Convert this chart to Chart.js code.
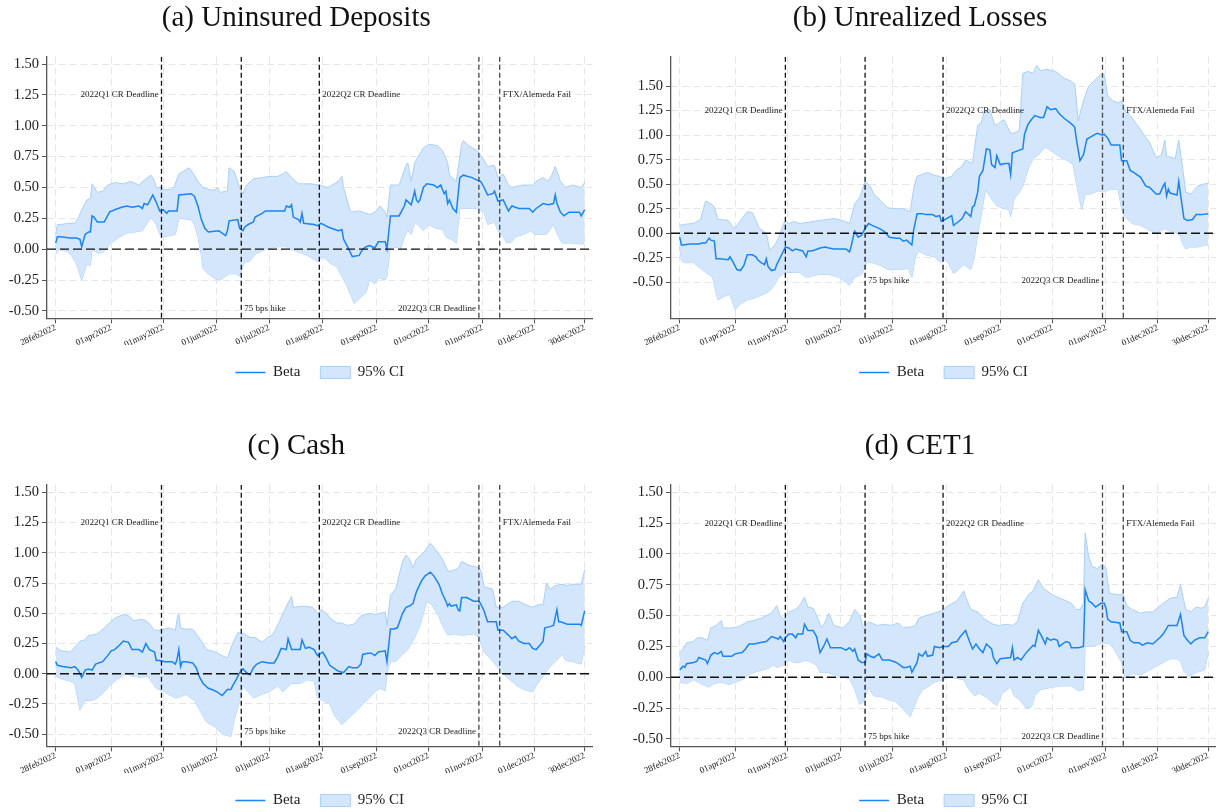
<!DOCTYPE html>
<html>
<head>
<meta charset="utf-8">
<script src="https://cdn.jsdelivr.net/npm/chart.js@4.4.1/dist/chart.umd.min.js"></script>
<style>
html, body { margin: 0; padding: 0; background: #fff; overflow: hidden; width: 1216px; height: 812px; }
canvas { position: absolute; }
</style>
</head>
<body>
<canvas id="chartA" width="608" height="390" style="left:0px;top:0px"></canvas>
<canvas id="chartB" width="592" height="390" style="left:624px;top:0px"></canvas>
<canvas id="chartC" width="608" height="390" style="left:0px;top:428px"></canvas>
<canvas id="chartD" width="592" height="390" style="left:624px;top:428px"></canvas>
<script>
// x values are days since 28feb2022
const tickDays = [0, 32, 62, 93, 123, 154, 185, 215, 246, 276, 305];
const tickLabels = ['28feb2022', '01apr2022', '01may2022', '01jun2022', '01jul2022', '01aug2022',
    '01sep2022', '01oct2022', '01nov2022', '01dec2022', '30dec2022'];
const yTicks = [-0.5, -0.25, 0, 0.25, 0.5, 0.75, 1, 1.25, 1.5];

const eventDays = [61, 107, 152, 244, 256];
const eventLabels = ['2022Q1 CR Deadline', '75 bps hike', '2022Q2 CR Deadline', '2022Q3 CR Deadline', 'FTX/Alemeda Fail'];

// (a) Uninsured Deposits
const betaA = [[0,0.05],[1,0.10],[3,0.10],[8,0.09],[12,0.09],[14,0.08],[15,0.02],[17,0.12],[19,0.14],[20,0.14],[21,0.27],[22,0.26],[24,0.22],[28,0.22],[31,0.30],[34,0.32],[38,0.34],[41,0.35],[44,0.34],[48,0.35],[50,0.33],[51,0.37],[53,0.36],[56,0.44],[58,0.38],[60,0.31],[62,0.32],[64,0.29],[65,0.31],[70,0.31],[71,0.44],[78,0.45],[80,0.43],[82,0.35],[84,0.24],[86,0.17],[88,0.14],[94,0.15],[96,0.13],[98,0.11],[99,0.15],[100,0.23],[105,0.24],[106,0.17],[108,0.15],[109,0.18],[111,0.20],[114,0.22],[115,0.26],[119,0.29],[121,0.31],[132,0.31],[133,0.35],[135,0.34],[136,0.36],[137,0.26],[140,0.24],[141,0.22],[142,0.29],[143,0.21],[149,0.20],[151,0.19],[153,0.21],[157,0.18],[161,0.16],[163,0.15],[165,0.16],[166,0.08],[169,0.00],[171,-0.06],[175,-0.05],[177,0.00],[179,0.02],[181,0.03],[184,0.01],[186,0.06],[190,0.06],[191,0.00],[193,0.27],[198,0.27],[201,0.35],[202,0.40],[205,0.36],[207,0.47],[208,0.40],[209,0.38],[210,0.40],[212,0.50],[214,0.53],[218,0.52],[220,0.50],[222,0.52],[224,0.45],[225,0.47],[226,0.37],[227,0.40],[229,0.33],[231,0.30],[233,0.58],[235,0.60],[240,0.58],[243,0.56],[245,0.55],[247,0.50],[249,0.44],[252,0.45],[253,0.47],[255,0.39],[258,0.40],[260,0.34],[261,0.31],[263,0.35],[265,0.34],[267,0.33],[273,0.33],[275,0.30],[277,0.33],[281,0.37],[284,0.36],[287,0.37],[288,0.44],[289,0.37],[291,0.30],[293,0.27],[296,0.30],[302,0.30],[303,0.27],[305,0.32]];
const hiA = [[0,0.12],[1,0.20],[3,0.20],[7,0.21],[11,0.21],[13,0.25],[15,0.32],[18,0.40],[20,0.41],[21,0.53],[24,0.46],[27,0.47],[30,0.52],[34,0.54],[39,0.53],[43,0.55],[48,0.52],[51,0.56],[55,0.60],[57,0.55],[58,0.50],[61,0.50],[63,0.48],[68,0.49],[71,0.61],[77,0.66],[80,0.60],[82,0.55],[85,0.50],[89,0.48],[92,0.48],[93,0.50],[95,0.46],[99,0.47],[100,0.66],[103,0.63],[106,0.50],[108,0.45],[110,0.52],[114,0.57],[119,0.58],[123,0.59],[128,0.59],[131,0.61],[133,0.63],[136,0.58],[140,0.53],[143,0.53],[147,0.53],[152,0.52],[157,0.50],[163,0.55],[165,0.59],[166,0.50],[168,0.40],[170,0.30],[175,0.31],[181,0.28],[184,0.30],[187,0.35],[190,0.30],[191,0.26],[193,0.52],[198,0.52],[202,0.68],[203,0.70],[205,0.55],[207,0.70],[212,0.82],[215,0.85],[220,0.84],[223,0.80],[226,0.70],[227,0.60],[231,0.55],[234,0.85],[235,0.88],[238,0.84],[243,0.80],[245,0.76],[247,0.72],[249,0.67],[253,0.68],[255,0.58],[258,0.61],[261,0.52],[263,0.50],[269,0.52],[275,0.52],[278,0.56],[281,0.58],[284,0.55],[286,0.60],[288,0.67],[291,0.55],[294,0.50],[298,0.52],[303,0.50],[305,0.54]];
const loA = [[0,-0.04],[2,0.00],[7,-0.02],[9,-0.05],[12,-0.12],[15,-0.25],[18,-0.12],[20,-0.13],[21,0.00],[24,-0.03],[27,-0.03],[29,0.00],[32,0.05],[37,0.10],[41,0.13],[46,0.14],[50,0.15],[55,0.26],[58,0.20],[60,0.12],[62,0.10],[66,0.11],[69,0.12],[71,0.25],[78,0.24],[80,0.20],[82,0.10],[84,-0.05],[85,-0.16],[88,-0.20],[92,-0.24],[95,-0.25],[98,-0.22],[100,-0.20],[104,-0.20],[106,-0.22],[109,-0.10],[112,-0.10],[115,-0.04],[121,0.00],[128,0.02],[133,0.02],[136,0.00],[141,-0.03],[145,-0.05],[151,-0.10],[154,-0.06],[159,-0.12],[162,-0.14],[165,-0.22],[168,-0.30],[171,-0.40],[172,-0.44],[175,-0.40],[179,-0.35],[181,-0.25],[184,-0.28],[186,-0.23],[190,-0.25],[191,-0.22],[193,0.02],[199,0.01],[201,0.10],[203,0.15],[205,0.12],[207,0.22],[210,0.18],[212,0.15],[215,0.20],[219,0.17],[223,0.16],[225,0.10],[228,0.08],[231,0.05],[233,0.33],[243,0.33],[247,0.30],[249,0.20],[253,0.22],[255,0.15],[258,0.10],[260,0.05],[263,0.06],[265,0.10],[270,0.12],[274,0.15],[276,0.12],[283,0.12],[287,0.20],[290,0.10],[292,0.05],[298,0.05],[304,0.04],[305,0.08]];

// (b) Unrealized Losses
const betaB = [[0,-0.04],[1,-0.12],[2,-0.12],[6,-0.11],[9,-0.11],[11,-0.11],[13,-0.10],[15,-0.10],[17,-0.05],[18,-0.07],[20,-0.08],[21,-0.26],[23,-0.26],[28,-0.27],[29,-0.24],[31,-0.30],[33,-0.37],[35,-0.38],[37,-0.33],[39,-0.22],[42,-0.22],[44,-0.24],[45,-0.27],[47,-0.30],[49,-0.32],[50,-0.26],[51,-0.34],[53,-0.38],[55,-0.37],[56,-0.32],[58,-0.25],[61,-0.14],[63,-0.15],[65,-0.18],[67,-0.16],[71,-0.18],[73,-0.24],[74,-0.18],[76,-0.18],[78,-0.17],[81,-0.15],[84,-0.14],[86,-0.15],[89,-0.16],[96,-0.16],[98,-0.19],[99,-0.13],[100,-0.05],[101,0.02],[103,-0.04],[105,-0.02],[107,0.05],[109,0.10],[111,0.08],[115,0.05],[118,0.02],[121,-0.04],[125,-0.05],[127,-0.05],[129,-0.08],[131,-0.07],[134,-0.12],[135,0.03],[137,0.20],[140,0.20],[142,0.19],[146,0.19],[148,0.17],[150,0.18],[151,0.12],[152,0.13],[154,0.15],[157,0.18],[158,0.08],[161,0.12],[163,0.15],[165,0.22],[168,0.17],[169,0.27],[170,0.28],[172,0.42],[173,0.58],[175,0.64],[176,0.75],[177,0.86],[179,0.85],[180,0.70],[182,0.67],[183,0.79],[185,0.70],[188,0.71],[190,0.71],[191,0.60],[192,0.82],[195,0.84],[198,0.86],[199,1.01],[201,1.11],[203,1.16],[205,1.20],[208,1.18],[210,1.18],[212,1.29],[214,1.26],[217,1.27],[219,1.22],[222,1.17],[225,1.13],[227,1.10],[228,1.08],[229,0.95],[231,0.74],[233,0.80],[235,0.96],[237,0.98],[239,1.00],[241,1.02],[244,1.00],[245,1.01],[247,0.97],[249,0.90],[254,0.90],[255,0.74],[258,0.74],[260,0.64],[262,0.62],[266,0.57],[269,0.48],[271,0.47],[275,0.40],[277,0.40],[279,0.48],[280,0.51],[281,0.38],[282,0.45],[283,0.41],[287,0.39],[288,0.53],[289,0.40],[291,0.15],[293,0.13],[296,0.14],[298,0.19],[301,0.19],[305,0.20]];
const hiB = [[0,0.08],[2,0.09],[8,0.10],[12,0.14],[15,0.33],[18,0.30],[20,0.27],[22,0.14],[24,0.14],[28,0.13],[30,0.08],[32,0.05],[34,0.10],[36,0.15],[39,0.22],[42,0.21],[44,0.13],[46,0.05],[50,0.00],[52,-0.17],[55,-0.12],[57,-0.05],[60,0.10],[61,0.13],[63,0.10],[66,0.12],[69,0.10],[74,0.11],[77,0.12],[80,0.13],[85,0.14],[89,0.15],[94,0.13],[98,0.10],[101,0.30],[104,0.37],[107,0.53],[110,0.48],[112,0.40],[116,0.33],[120,0.26],[125,0.25],[129,0.25],[133,0.22],[135,0.45],[137,0.58],[140,0.60],[143,0.62],[147,0.59],[150,0.58],[153,0.56],[157,0.58],[160,0.65],[163,0.68],[165,0.75],[168,0.72],[169,0.72],[172,1.10],[174,1.13],[176,1.25],[179,1.26],[180,1.20],[182,1.10],[184,1.12],[187,1.16],[191,1.02],[193,1.02],[196,1.05],[198,1.63],[201,1.65],[204,1.63],[206,1.71],[208,1.66],[212,1.67],[217,1.65],[222,1.58],[226,1.55],[228,1.52],[230,1.15],[233,1.35],[236,1.50],[239,1.55],[243,1.62],[245,1.62],[247,1.40],[250,1.35],[253,1.33],[255,1.35],[257,1.25],[260,1.20],[265,1.08],[268,1.00],[271,0.93],[275,0.77],[278,0.80],[280,0.95],[281,0.78],[283,0.78],[286,0.76],[288,0.95],[290,0.70],[292,0.42],[295,0.40],[299,0.48],[302,0.50],[305,0.51]];
const loB = [[0,-0.14],[1,-0.28],[3,-0.30],[8,-0.30],[12,-0.36],[15,-0.40],[19,-0.45],[22,-0.68],[25,-0.65],[29,-0.62],[32,-0.78],[35,-0.72],[39,-0.68],[43,-0.66],[46,-0.64],[51,-0.60],[54,-0.55],[57,-0.45],[61,-0.40],[65,-0.40],[69,-0.40],[73,-0.45],[76,-0.44],[80,-0.42],[86,-0.42],[92,-0.45],[98,-0.53],[101,-0.45],[105,-0.42],[108,-0.30],[111,-0.30],[116,-0.33],[120,-0.37],[127,-0.37],[132,-0.36],[134,-0.45],[136,-0.24],[138,-0.18],[142,-0.22],[147,-0.24],[151,-0.30],[153,-0.27],[155,-0.30],[158,-0.41],[161,-0.37],[164,-0.32],[168,-0.37],[170,-0.25],[172,0.00],[174,0.18],[176,0.40],[177,0.43],[180,0.35],[183,0.28],[186,0.26],[190,0.24],[191,0.17],[193,0.35],[196,0.42],[198,0.48],[201,0.65],[204,0.76],[207,0.80],[211,0.88],[215,0.83],[220,0.77],[224,0.74],[227,0.70],[229,0.50],[232,0.24],[234,0.40],[237,0.40],[241,0.43],[246,0.43],[249,0.45],[253,0.45],[255,0.25],[257,0.17],[261,0.10],[266,0.08],[270,0.04],[275,0.00],[278,0.03],[280,0.05],[282,0.03],[286,0.01],[289,-0.03],[290,-0.10],[292,-0.16],[295,-0.14],[299,-0.14],[303,-0.12],[305,-0.12]];

// (c) Cash
const betaC = [[0,0.10],[1,0.07],[4,0.06],[9,0.05],[11,0.06],[13,0.03],[15,-0.03],[17,0.03],[19,0.04],[21,0.03],[23,0.08],[27,0.10],[30,0.15],[32,0.19],[34,0.20],[37,0.24],[39,0.27],[42,0.26],[44,0.20],[48,0.20],[50,0.18],[52,0.25],[54,0.20],[57,0.18],[58,0.11],[60,0.11],[63,0.10],[67,0.10],[69,0.08],[70,0.12],[71,0.20],[72,0.06],[73,0.10],[75,0.10],[79,0.09],[81,0.05],[83,-0.03],[85,-0.08],[88,-0.12],[90,-0.13],[93,-0.15],[96,-0.18],[99,-0.13],[101,-0.13],[102,-0.10],[104,-0.05],[106,0.01],[108,0.04],[110,0.01],[112,-0.01],[114,0.05],[116,0.08],[119,0.10],[123,0.09],[126,0.09],[128,0.14],[130,0.21],[133,0.20],[134,0.29],[136,0.20],[137,0.20],[141,0.20],[142,0.28],[144,0.21],[146,0.22],[149,0.20],[151,0.15],[154,0.18],[156,0.13],[158,0.07],[161,0.04],[163,0.02],[166,0.01],[169,0.06],[171,0.05],[174,0.05],[176,0.08],[177,0.16],[180,0.17],[182,0.17],[184,0.15],[186,0.18],[190,0.19],[191,0.10],[193,0.37],[195,0.37],[197,0.38],[200,0.50],[202,0.55],[204,0.56],[206,0.58],[208,0.68],[211,0.77],[213,0.81],[216,0.84],[218,0.81],[221,0.74],[223,0.66],[225,0.60],[226,0.56],[227,0.58],[228,0.56],[231,0.57],[232,0.53],[233,0.52],[234,0.63],[237,0.63],[241,0.60],[244,0.60],[245,0.58],[247,0.52],[249,0.43],[254,0.43],[255,0.36],[258,0.36],[261,0.32],[263,0.29],[265,0.31],[267,0.27],[270,0.25],[273,0.25],[275,0.21],[277,0.20],[280,0.25],[281,0.27],[282,0.38],[285,0.39],[287,0.40],[289,0.53],[290,0.43],[291,0.43],[295,0.41],[298,0.41],[302,0.41],[303,0.40],[305,0.52]];
const hiC = [[0,0.22],[3,0.19],[8,0.18],[10,0.20],[14,0.27],[17,0.28],[19,0.32],[21,0.32],[24,0.33],[28,0.38],[31,0.42],[34,0.46],[39,0.49],[42,0.48],[45,0.44],[50,0.45],[53,0.43],[57,0.36],[61,0.36],[65,0.38],[69,0.36],[70,0.45],[71,0.50],[72,0.38],[74,0.37],[79,0.37],[81,0.33],[84,0.27],[87,0.20],[92,0.18],[96,0.15],[99,0.13],[102,0.25],[105,0.34],[109,0.33],[112,0.30],[115,0.30],[119,0.26],[122,0.30],[125,0.32],[129,0.43],[132,0.53],[136,0.64],[137,0.55],[143,0.56],[148,0.55],[151,0.50],[153,0.53],[156,0.50],[159,0.45],[162,0.42],[165,0.42],[168,0.40],[172,0.41],[176,0.48],[181,0.50],[184,0.49],[190,0.51],[191,0.40],[193,0.65],[196,0.70],[200,0.93],[202,0.98],[204,0.95],[206,0.88],[208,0.95],[212,1.00],[216,1.08],[219,1.03],[223,0.95],[226,0.85],[228,0.85],[232,0.87],[234,0.93],[238,0.90],[243,0.88],[245,0.86],[247,0.72],[252,0.70],[254,0.55],[258,0.55],[263,0.60],[267,0.60],[271,0.57],[275,0.55],[278,0.57],[281,0.57],[283,0.75],[285,0.70],[288,0.73],[292,0.74],[295,0.73],[298,0.74],[303,0.74],[305,0.86]];
const loC = [[0,-0.02],[3,-0.04],[8,-0.06],[11,-0.08],[14,-0.30],[17,-0.22],[21,-0.22],[24,-0.20],[28,-0.15],[31,-0.10],[35,-0.05],[41,0.00],[44,-0.02],[50,-0.03],[53,-0.02],[58,-0.12],[61,-0.14],[65,-0.17],[69,-0.20],[72,-0.19],[75,-0.17],[80,-0.22],[83,-0.30],[87,-0.40],[92,-0.44],[96,-0.50],[101,-0.52],[103,-0.38],[105,-0.28],[108,-0.10],[111,-0.15],[114,-0.20],[119,-0.17],[123,-0.15],[128,-0.10],[131,-0.15],[133,-0.12],[136,-0.08],[141,-0.08],[145,-0.05],[149,-0.06],[151,-0.20],[154,-0.22],[158,-0.25],[161,-0.35],[165,-0.42],[168,-0.38],[170,-0.35],[174,-0.30],[177,-0.25],[181,-0.20],[184,-0.15],[187,-0.12],[190,-0.14],[191,0.00],[193,0.10],[196,0.10],[200,0.16],[203,0.20],[207,0.30],[210,0.40],[214,0.60],[217,0.57],[221,0.47],[223,0.40],[226,0.32],[230,0.33],[233,0.32],[236,0.32],[241,0.33],[244,0.30],[247,0.18],[251,0.12],[255,0.05],[258,0.00],[262,-0.05],[266,-0.10],[270,-0.13],[275,-0.15],[277,-0.10],[281,-0.02],[285,0.06],[288,0.10],[292,0.16],[294,0.11],[298,0.10],[303,0.08],[305,0.23]];

// (d) CET1
const betaD = [[0,0.06],[2,0.09],[3,0.08],[4,0.11],[8,0.12],[10,0.13],[11,0.16],[13,0.15],[15,0.14],[16,0.11],[18,0.18],[20,0.20],[22,0.19],[24,0.21],[25,0.17],[30,0.17],[32,0.19],[36,0.20],[38,0.23],[40,0.27],[43,0.27],[46,0.28],[50,0.29],[53,0.33],[55,0.32],[57,0.31],[58,0.33],[60,0.29],[61,0.32],[63,0.35],[65,0.35],[67,0.32],[68,0.35],[71,0.35],[72,0.43],[74,0.38],[77,0.38],[79,0.33],[81,0.20],[83,0.25],[85,0.31],[87,0.24],[93,0.24],[96,0.22],[98,0.24],[100,0.21],[101,0.23],[103,0.14],[105,0.12],[107,0.12],[108,0.19],[110,0.17],[112,0.16],[115,0.19],[117,0.14],[121,0.14],[123,0.13],[125,0.12],[129,0.08],[131,0.08],[133,0.09],[134,0.04],[137,0.12],[138,0.19],[140,0.17],[142,0.21],[143,0.17],[146,0.18],[147,0.25],[150,0.24],[152,0.25],[155,0.25],[157,0.28],[160,0.29],[162,0.33],[165,0.38],[167,0.30],[169,0.23],[171,0.27],[173,0.23],[175,0.20],[177,0.27],[180,0.23],[181,0.16],[183,0.11],[185,0.15],[191,0.16],[192,0.24],[193,0.14],[195,0.16],[197,0.14],[200,0.20],[202,0.23],[204,0.26],[205,0.25],[207,0.38],[209,0.33],[211,0.27],[212,0.32],[214,0.30],[216,0.31],[218,0.30],[219,0.25],[223,0.29],[225,0.28],[226,0.24],[230,0.24],[233,0.25],[234,0.71],[236,0.62],[238,0.60],[240,0.57],[243,0.60],[245,0.60],[246,0.56],[247,0.47],[249,0.45],[254,0.44],[255,0.37],[258,0.37],[260,0.30],[262,0.28],[265,0.28],[267,0.26],[270,0.28],[273,0.27],[277,0.32],[279,0.35],[282,0.42],[287,0.42],[289,0.51],[291,0.34],[293,0.30],[295,0.27],[297,0.30],[300,0.32],[303,0.32],[305,0.37]];
const hiD = [[0,0.20],[2,0.23],[4,0.28],[8,0.29],[10,0.32],[13,0.32],[16,0.30],[18,0.40],[21,0.42],[24,0.46],[25,0.40],[30,0.40],[34,0.41],[39,0.45],[43,0.46],[47,0.48],[53,0.52],[56,0.58],[58,0.50],[60,0.47],[63,0.53],[67,0.55],[70,0.60],[72,0.65],[74,0.57],[77,0.56],[79,0.50],[82,0.40],[84,0.45],[86,0.52],[89,0.42],[94,0.40],[98,0.45],[101,0.55],[104,0.50],[106,0.40],[109,0.45],[114,0.42],[118,0.43],[122,0.42],[126,0.44],[129,0.40],[134,0.41],[136,0.42],[138,0.48],[142,0.50],[147,0.52],[151,0.54],[155,0.58],[160,0.62],[164,0.70],[165,0.65],[168,0.55],[172,0.53],[176,0.47],[181,0.43],[184,0.42],[189,0.43],[192,0.42],[195,0.45],[198,0.60],[202,0.68],[204,0.70],[207,0.79],[210,0.72],[212,0.70],[215,0.67],[218,0.65],[223,0.62],[226,0.60],[229,0.55],[231,0.55],[233,0.60],[234,1.17],[236,0.98],[238,0.90],[241,0.88],[244,0.92],[246,0.88],[248,0.68],[253,0.67],[256,0.67],[258,0.58],[261,0.55],[266,0.52],[269,0.53],[273,0.53],[278,0.59],[283,0.64],[287,0.65],[289,0.75],[292,0.55],[295,0.53],[298,0.57],[301,0.56],[303,0.57],[305,0.64]];
const loD = [[0,-0.04],[4,-0.05],[8,-0.02],[12,-0.05],[17,-0.08],[20,-0.05],[24,-0.04],[29,-0.06],[32,-0.04],[36,-0.02],[41,0.03],[45,0.05],[51,0.07],[54,0.10],[56,0.08],[60,0.10],[63,0.14],[66,0.12],[69,0.12],[73,0.14],[76,0.12],[79,0.10],[81,0.04],[85,0.04],[89,0.02],[94,0.00],[98,-0.01],[101,-0.10],[104,-0.22],[106,-0.20],[109,-0.08],[112,-0.15],[117,-0.16],[120,-0.18],[125,-0.20],[129,-0.26],[133,-0.32],[137,-0.18],[140,-0.10],[143,-0.08],[147,-0.04],[152,-0.02],[155,0.00],[160,-0.01],[164,-0.02],[166,-0.08],[170,-0.15],[173,-0.13],[177,-0.16],[181,-0.21],[183,-0.23],[186,-0.13],[191,-0.08],[193,-0.15],[196,-0.18],[200,-0.25],[203,-0.24],[205,-0.15],[208,-0.10],[212,-0.09],[215,-0.08],[220,-0.07],[226,-0.07],[230,-0.11],[233,-0.10],[234,0.25],[237,0.25],[243,0.27],[246,0.28],[249,0.26],[251,0.22],[255,0.12],[257,0.00],[261,0.03],[266,0.02],[270,0.05],[274,0.08],[279,0.12],[283,0.15],[287,0.15],[289,0.13],[291,0.05],[294,0.00],[298,0.04],[301,0.05],[303,0.06],[305,0.20]];

const SERIF = "'Liberation Serif', 'Times New Roman', serif";
const betaColor = '#1a84f2';
const bandFill = '#d3e6fc';
const bandEdge = '#a9d0f8';
const axisColor = '#555555';

function toPoints(pairs) {
    return pairs.map(p => ({ x: p[0], y: p[1] }));
}

const eventLines = {
    id: 'eventLines',
    afterDatasetsDraw(chart) {
        const { ctx, chartArea: area, scales: { x, y } } = chart;
        ctx.save();
        ctx.beginPath();
        ctx.rect(area.left, area.top, area.right - area.left, area.bottom - area.top);
        ctx.clip();
        ctx.lineWidth = 1.3;
        ctx.strokeStyle = '#111';
        ctx.setLineDash([9, 4]);
        const y0 = y.getPixelForValue(0);
        ctx.beginPath();
        ctx.moveTo(area.left, y0);
        ctx.lineTo(area.right, y0);
        ctx.stroke();
        ctx.setLineDash([5, 3]);
        eventDays.forEach((d, i) => {
            const px = x.getPixelForValue(d);
            ctx.strokeStyle = i >= 3 ? '#444' : '#111';
            ctx.beginPath();
            ctx.moveTo(px, area.top);
            ctx.lineTo(px, area.bottom);
            ctx.stroke();
        });
        ctx.restore();

        ctx.save();
        ctx.font = '9px ' + SERIF;
        ctx.fillStyle = '#222';
        ctx.textBaseline = 'middle';
        const top = y.getPixelForValue(1.25);
        const bottom = y.getPixelForValue(-0.48);
        // label side: left of the line for Q1 and Q3, right of it for the others
        const notes = [
            { i: 0, yy: top, left: true },
            { i: 1, yy: bottom, left: false },
            { i: 2, yy: top, left: false },
            { i: 3, yy: bottom, left: true },
            { i: 4, yy: top, left: false }
        ];
        notes.forEach(n => {
            const px = x.getPixelForValue(eventDays[n.i]);
            ctx.textAlign = n.left ? 'right' : 'left';
            ctx.fillText(eventLabels[n.i], n.left ? px - 3 : px + 3, n.yy);
        });
        ctx.restore();
    }
};

function makeChart(id, title, beta, hi, lo, yMin, yMax, padRight) {
    const ctx = document.getElementById(id).getContext('2d');
    return new Chart(ctx, {
        type: 'line',
        data: {
            datasets: [
                {
                    label: 'Beta',
                    data: toPoints(beta),
                    borderColor: betaColor,
                    borderWidth: 1.5,
                    pointRadius: 0,
                    fill: false,
                    order: 0
                },
                {
                    label: '95% CI',
                    data: toPoints(hi),
                    borderColor: bandEdge,
                    borderWidth: 1,
                    backgroundColor: bandFill,
                    pointRadius: 0,
                    fill: '+1',
                    order: 1
                },
                {
                    label: 'lower',
                    data: toPoints(lo),
                    borderColor: bandEdge,
                    borderWidth: 1,
                    pointRadius: 0,
                    fill: false,
                    order: 2
                }
            ]
        },
        options: {
            responsive: false,
            animation: false,
            layout: { padding: { left: 0, right: padRight, top: 0, bottom: 0 } },
            scales: {
                x: {
                    type: 'linear',
                    min: -5,
                    max: 309.5,
                    afterBuildTicks: function (scale) {
                        scale.ticks = tickDays.map(v => ({ value: v }));
                    },
                    afterFit: function (scale) {
                        scale.height = 26.7;
                        scale.paddingLeft = 0;
                        scale.paddingRight = 0;
                    },
                    ticks: {
                        autoSkip: false,
                        minRotation: 25,
                        maxRotation: 25,
                        padding: -1,
                        color: '#222',
                        font: { family: SERIF, size: 9 },
                        callback: function (value, index) {
                            return tickLabels[index];
                        }
                    },
                    grid: { color: '#e6e6e6', tickColor: axisColor, tickLength: 5, tickBorderDash: [] },
                    border: { color: axisColor, width: 1.3, dash: [7, 4] }
                },
                y: {
                    min: yMin,
                    max: yMax,
                    afterBuildTicks: function (scale) {
                        scale.ticks = yTicks.map(v => ({ value: v }));
                    },
                    afterFit: function (scale) {
                        scale.width = 47;
                        scale.paddingTop = 0;
                        scale.paddingBottom = 0;
                    },
                    ticks: {
                        padding: 3,
                        color: '#222',
                        font: { family: SERIF, size: 14.5 },
                        callback: function (value) {
                            return value.toFixed(2);
                        }
                    },
                    grid: { color: '#e6e6e6', tickColor: axisColor, tickLength: 5, tickBorderDash: [] },
                    border: { color: axisColor, width: 1.3, dash: [7, 4] }
                }
            },
            plugins: {
                title: {
                    display: true,
                    text: title,
                    color: '#111',
                    font: { family: SERIF, size: 29, weight: 'normal' },
                    padding: { top: 1, bottom: 20.9 }
                },
                legend: {
                    position: 'bottom',
                    fullSize: false,
                    labels: {
                        usePointStyle: true,
                        pointStyleWidth: 30,
                        boxHeight: 12,
                        padding: 20,
                        color: '#222',
                        font: { family: SERIF, size: 15 },
                        generateLabels: function () {
                            return [
                                { text: 'Beta', pointStyle: 'line', strokeStyle: betaColor, fillStyle: betaColor, lineWidth: 1.5, fontColor: '#222', hidden: false, datasetIndex: 0 },
                                { text: '95% CI', pointStyle: 'rect', strokeStyle: bandEdge, fillStyle: bandFill, lineWidth: 1, fontColor: '#222', hidden: false, datasetIndex: 1 }
                            ];
                        }
                    }
                },
                tooltip: { enabled: false }
            }
        },
        plugins: [eventLines]
    });
}

makeChart('chartA', '(a) Uninsured Deposits', betaA, hiA, loA, -0.56, 1.56, 15.5);
makeChart('chartB', '(b) Unrealized Losses', betaB, hiB, loB, -0.867, 1.80, 0);
makeChart('chartC', '(c) Cash', betaC, hiC, loC, -0.60, 1.564, 15.5);
makeChart('chartD', '(d) CET1', betaD, hiD, loD, -0.56, 1.562, 0);
</script>
</body>
</html>
